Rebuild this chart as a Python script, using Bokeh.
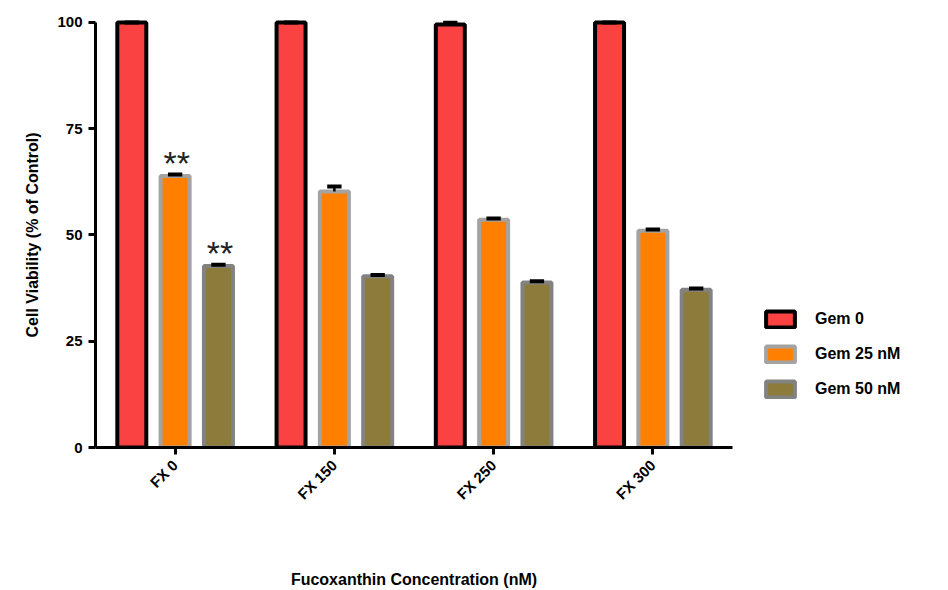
import math
from bokeh.plotting import figure
from bokeh.models import (FactorRange, Range1d, Legend, LegendItem,
                          ColumnDataSource, FixedTicker)
from bokeh.transform import dodge
from bokeh.embed import file_html
from bokeh.resources import INLINE
from bokeh.core.properties import value

# ---------------- data ----------------
categories = ["FX 0", "FX 150", "FX 250", "FX 300"]
series_names = ["Gem 0", "Gem 25 nM", "Gem 50 nM"]

gem0 = [100.0, 100.0, 99.5, 100.0]
gem0_err = [0.0, 0.0, 0.4, 0.0]
gem25 = [63.9, 60.2, 53.6, 51.0]
gem25_err = [0.3, 1.2, 0.3, 0.3]
gem50 = [42.7, 40.3, 38.8, 37.1]
gem50_err = [0.3, 0.3, 0.3, 0.3]
gem0_sig = ["", "", "", ""]
gem25_sig = ["**", "", "", ""]
gem50_sig = ["**", "", "", ""]

y_ticks = [0, 25, 50, 75, 100]
x_title = "Fucoxanthin Concentration (nM)"
y_title = "Cell Viability   (% of Control)"

# ---------------- style ----------------
fills = ["#FA4242", "#FF8000", "#8C7B3A"]
borders = ["#000000", "#A3A3A3", "#828282"]
offsets = [-0.272, 0.0, 0.272]
bar_w = 0.182
cap_half = 0.045
FONT = "Liberation Sans"

p = figure(x_range=FactorRange(*categories, range_padding=0),
           y_range=Range1d(0, 102.1),
           frame_width=637, frame_height=434,
           min_border_left=95, min_border_right=216,
           min_border_top=13, min_border_bottom=143,
           output_backend="svg", toolbar_location=None,
           outline_line_color=None)
p.xgrid.grid_line_color = None
p.ygrid.grid_line_color = None
p.background_fill_color = "white"
p.border_fill_color = "white"

means = [gem0, gem25, gem50]
errs = [gem0_err, gem25_err, gem50_err]
sigs = [gem0_sig, gem25_sig, gem50_sig]

items = []
for i in range(3):
    top_err = [m + e for m, e in zip(means[i], errs[i])]
    src = ColumnDataSource(dict(cat=categories, val=means[i], err=errs[i],
                                top=top_err, sig=sigs[i]))
    r = p.vbar(x=dodge("cat", offsets[i], range=p.x_range), top="val",
               bottom=0, width=bar_w, source=src,
               fill_color=fills[i], line_color=borders[i], line_width=4)
    items.append(LegendItem(label=series_names[i], renderers=[r]))
    # error stems
    p.segment(x0=dodge("cat", offsets[i], range=p.x_range), y0="val",
              x1=dodge("cat", offsets[i], range=p.x_range), y1="top",
              source=src, line_color="black", line_width=2.5)
    # error caps
    p.segment(x0=dodge("cat", offsets[i] - cap_half, range=p.x_range), y0="top",
              x1=dodge("cat", offsets[i] + cap_half, range=p.x_range), y1="top",
              source=src, line_color="black", line_width=4)
    # significance marks
    p.text(x=dodge("cat", offsets[i] + 0.01, range=p.x_range), y="top",
           text="sig", source=src, text_align="center",
           text_baseline="alphabetic", y_offset=-12,
           text_font=value(FONT), text_font_size="34px", text_color="#222222")

# axes
p.yaxis.ticker = FixedTicker(ticks=y_ticks)
p.yaxis.bounds = (0, 100)
for ax in (p.xaxis[0], p.yaxis[0]):
    ax.axis_line_width = 3
    ax.axis_line_color = "black"
    ax.major_tick_line_width = 3
    ax.major_tick_line_color = "black"
    ax.major_tick_out = 7
    ax.major_tick_in = 0
    ax.minor_tick_line_color = None
    ax.major_label_text_font = FONT
    ax.major_label_text_font_style = "bold"
    ax.major_label_text_font_size = "15px"
    ax.major_label_text_color = "black"
    ax.axis_label_text_font = FONT
    ax.axis_label_text_font_style = "bold"
    ax.axis_label_text_font_size = "16px"
    ax.axis_label_text_color = "black"

p.xaxis.axis_label = x_title
p.yaxis.axis_label = y_title
p.xaxis.major_label_orientation = math.pi / 4
p.xaxis.major_label_standoff = 8
p.yaxis.major_label_standoff = 6
p.xaxis.axis_label_standoff = 59
p.yaxis.axis_label_standoff = 13

legend = Legend(items=items, location=(30, 48), orientation="vertical",
                glyph_width=36, glyph_height=20, label_standoff=17,
                spacing=15, padding=10, margin=0,
                label_text_font=FONT, label_text_font_style="bold",
                label_text_font_size="16px", label_text_color="black",
                border_line_color=None, background_fill_alpha=0)
p.add_layout(legend, "right")

open("out.html", "w").write(file_html(p, INLINE))
